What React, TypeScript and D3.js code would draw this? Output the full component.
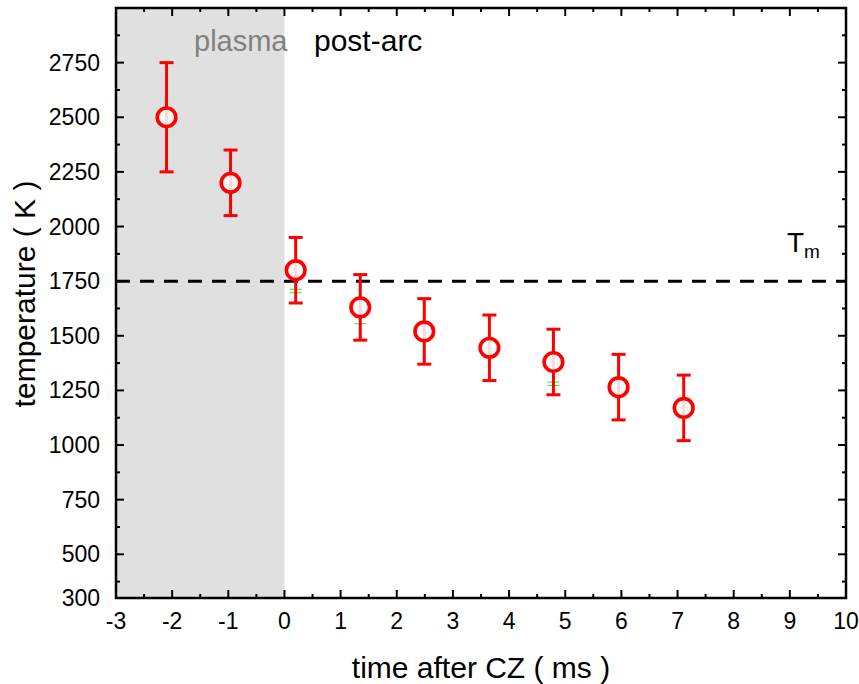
import React from "react";
import * as d3 from "d3";

const times = [-2.1, -0.96, 0.2, 1.35, 2.49, 3.65, 4.79, 5.95, 7.11];
const temps = [2500, 2200, 1800, 1630, 1520, 1445, 1380, 1265, 1170];
const errs = [250, 150, 150, 150, 150, 150, 150, 150, 150];
const greenTemps = [2520, 2180, 1705, 1570, 1505, 1430, 1280, 1250, 1180];
const greenErrs = [10, 10, 8, 15, 12, 12, 8, 8, 8];
const xTicks = [-3, -2, -1, 0, 1, 2, 3, 4, 5, 6, 7, 8, 9, 10];
const yTicks = [300, 500, 750, 1000, 1250, 1500, 1750, 2000, 2250, 2500, 2750];
const yMinor = [375, 625, 875, 1125, 1375, 1625, 1875, 2125, 2375, 2625, 2875];
const meltT = 1750;

const W = 859, H = 684;
const L = 116, R = 846, T = 8, B = 598;

export default function App() {
  const x = d3.scaleLinear().domain([-3, 10]).range([L, R]);
  const y = d3.scaleLinear().domain([300, 3000]).range([B, T]);
  const xMinor = d3.range(-2.5, 10, 1);
  const font = "'Liberation Sans', Arial, sans-serif";
  return (
    <svg width={W} height={H} style={{ position: "absolute", left: 0, top: 0 }} fontFamily={font}>
      <rect x={x(-3)} y={T} width={x(0) - x(-3)} height={B - T} fill="#e0e0e0" />
      <line x1={L} x2={R} y1={y(meltT)} y2={y(meltT)} stroke="#000" strokeWidth={3} strokeDasharray="14,10" />
      {times.map((t, i) => (
        <g key={"g" + i} stroke="#33dd33" strokeWidth={1}>
          <line x1={x(t)} x2={x(t)} y1={y(greenTemps[i] - greenErrs[i])} y2={y(greenTemps[i] + greenErrs[i])} />
          <line x1={x(t) - 6} x2={x(t) + 6} y1={y(greenTemps[i] - greenErrs[i])} y2={y(greenTemps[i] - greenErrs[i])} />
          <line x1={x(t) - 6} x2={x(t) + 6} y1={y(greenTemps[i] + greenErrs[i])} y2={y(greenTemps[i] + greenErrs[i])} />
        </g>
      ))}
      {times.map((t, i) => (
        <g key={"e" + i} stroke="#ff0000" strokeWidth={3}>
          <line x1={x(t)} x2={x(t)} y1={y(temps[i] - errs[i])} y2={y(temps[i] + errs[i])} />
          <line x1={x(t) - 7} x2={x(t) + 7} y1={y(temps[i] - errs[i])} y2={y(temps[i] - errs[i])} />
          <line x1={x(t) - 7} x2={x(t) + 7} y1={y(temps[i] + errs[i])} y2={y(temps[i] + errs[i])} />
        </g>
      ))}
      {times.map((t, i) => (
        <circle key={"c" + i} cx={x(t)} cy={y(temps[i])} r={9.3} fill="#fff" fillOpacity={0.85} stroke="#ff0000" strokeWidth={3.6} />
      ))}
      {xTicks.map((v) => (
        <g key={"xt" + v} stroke="#000" strokeWidth={2}>
          <line x1={x(v)} x2={x(v)} y1={B} y2={B - 8} />
          <line x1={x(v)} x2={x(v)} y1={T} y2={T + 8} />
        </g>
      ))}
      {xMinor.map((v) => (
        <g key={"xm" + v} stroke="#000" strokeWidth={2}>
          <line x1={x(v)} x2={x(v)} y1={B} y2={B - 4} />
          <line x1={x(v)} x2={x(v)} y1={T} y2={T + 4} />
        </g>
      ))}
      {yTicks.map((v) => (
        <g key={"yt" + v} stroke="#000" strokeWidth={2}>
          <line x1={L} x2={L + 8} y1={y(v)} y2={y(v)} />
          <line x1={R} x2={R - 8} y1={y(v)} y2={y(v)} />
        </g>
      ))}
      {yMinor.map((v) => (
        <g key={"ym" + v} stroke="#000" strokeWidth={2}>
          <line x1={L} x2={L + 4} y1={y(v)} y2={y(v)} />
          <line x1={R} x2={R - 4} y1={y(v)} y2={y(v)} />
        </g>
      ))}
      <rect x={L} y={T} width={R - L} height={B - T} fill="none" stroke="#000" strokeWidth={2.5} />
      {xTicks.map((v) => (
        <text key={"xl" + v} x={x(v)} y={B + 31} textAnchor="middle" fontSize={23}>{v}</text>
      ))}
      {yTicks.map((v) => (
        <text key={"yl" + v} x={L - 16} y={y(v) + 8} textAnchor="end" fontSize={23}>{v}</text>
      ))}
      <text x={481} y={678} textAnchor="middle" fontSize={30}>time after CZ ( ms )</text>
      <text transform={`translate(35,294) rotate(-90)`} textAnchor="middle" fontSize={30}>temperature ( K )</text>
      <text x={194} y={51} fontSize={29} fill="#808080">plasma</text>
      <text x={314} y={51} fontSize={30} fill="#000">post-arc</text>
      <text x={787} y={252} fontSize={28}>T<tspan fontSize={19} dy={6}>m</tspan></text>
    </svg>
  );
}
